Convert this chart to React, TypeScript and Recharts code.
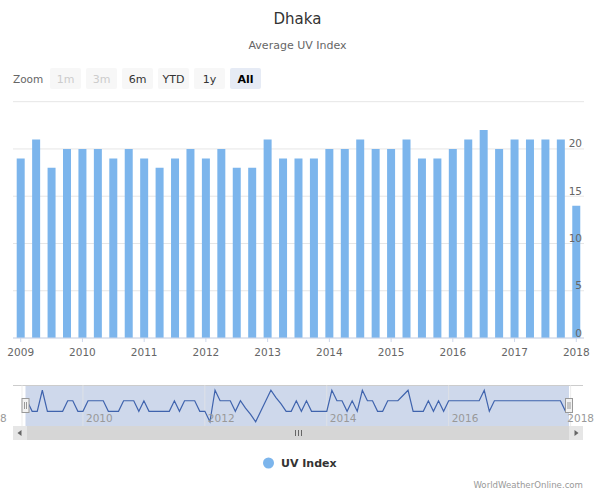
import React from 'react';
import { BarChart, Bar, XAxis, YAxis, CartesianGrid, LineChart, Line } from 'recharts';

const FONT = '"DejaVu Sans", Verdana, sans-serif';

// quarterly bars, 2009 Q1 .. 2018 Q1
const QUARTERS = [
  '2009 Q1', '2009 Q2', '2009 Q3', '2009 Q4',
  '2010 Q1', '2010 Q2', '2010 Q3', '2010 Q4',
  '2011 Q1', '2011 Q2', '2011 Q3', '2011 Q4',
  '2012 Q1', '2012 Q2', '2012 Q3', '2012 Q4',
  '2013 Q1', '2013 Q2', '2013 Q3', '2013 Q4',
  '2014 Q1', '2014 Q2', '2014 Q3', '2014 Q4',
  '2015 Q1', '2015 Q2', '2015 Q3', '2015 Q4',
  '2016 Q1', '2016 Q2', '2016 Q3', '2016 Q4',
  '2017 Q1', '2017 Q2', '2017 Q3', '2017 Q4',
  '2018 Q1',
];
const UV_INDEX = [
  19, 21, 18, 20,
  20, 20, 19, 20,
  19, 18, 19, 20,
  19, 20, 18, 18,
  21, 19, 19, 19,
  20, 20, 21, 20,
  20, 21, 19, 19,
  20, 21, 22, 20,
  21, 21, 21, 21,
  14,
];
const YEAR_TICKS = ['2009 Q1', '2010 Q1', '2011 Q1', '2012 Q1', '2013 Q1', '2014 Q1', '2015 Q1', '2016 Q1', '2017 Q1', '2018 Q1'];
const UV_TICKS = [0, 5, 10, 15, 20, 25];

// navigator: monthly values, Jan 2009 .. Jan 2018
const NAV_UV = [
  20, 20, 19, 19, 21, 19, 19, 19, 19, 20, 20, 19,
  19, 20, 20, 20, 20, 19, 19, 19, 20, 20, 20, 19,
  20, 19, 19, 19, 19, 19, 20, 19, 20, 20, 20, 19,
  19, 18, 21, 20, 20, 20, 19, 20, 19.3, 18.7, 18, 19,
  20, 21, 20.3, 19.7, 19, 19, 20, 19, 20, 19, 19, 19,
  19, 21, 20, 20, 19, 20, 19, 21, 20, 20, 19, 19,
  20, 20, 20, 20.5, 21, 19, 19, 19, 20, 19, 20, 19,
  20, 20, 20, 20, 20, 20, 20, 21, 19, 20, 20, 20,
  20, 20, 20, 20, 20, 20, 20, 20, 20, 20, 20, 19,
  19,
];
const NAV_TICKS = [12, 36, 60, 84, 108];
const NAV_LABELS = ['2010', '2012', '2014', '2016', '2018'];

const ZOOM_BUTTONS = ['1m', '3m', '6m', 'YTD', '1y', 'All'];

const barData = QUARTERS.map((q, i) => ({ q, uv: UV_INDEX[i] }));
const navData = NAV_UV.map((uv, m) => ({ m, uv }));

const XTick = ({ x, y, payload }: any) => (
  <text x={x} y={y + 14} textAnchor="middle" fontSize={10.5} fontFamily={FONT} fill="#666">
    {String(payload.value).slice(0, 4)}
  </text>
);

const YTick = ({ y, payload }: any) =>
  payload.value === 25 ? (
    <g />
  ) : (
    <text x={582} y={y - 1.5} textAnchor="end" fontSize={10.5} fontFamily={FONT} fill="#666">
      {payload.value}
    </text>
  );

// last label is pushed back inside the page edge, like Highstock's overflow justify
const NavTick = ({ x, payload }: any) => {
  const idx = NAV_TICKS.indexOf(payload.value);
  const last = idx === NAV_TICKS.length - 1;
  return (
    <text
      x={last ? 594 : x + 3}
      y={421.5 - 380}
      textAnchor={last ? 'end' : 'start'}
      fontSize={10.5}
      fontFamily={FONT}
      fill="#999"
    >
      {NAV_LABELS[idx]}
    </text>
  );
};

const Handle = ({ cx }: { cx: number }) => (
  <g>
    <rect x={cx - 3.5} y={398.5} width={7} height={14} fill="#f2f2f2" stroke="#999" strokeWidth={1} />
    <line x1={cx - 1} y1={402} x2={cx - 1} y2={409} stroke="#999" />
    <line x1={cx + 1} y1={402} x2={cx + 1} y2={409} stroke="#999" />
  </g>
);

const App: React.FC = () => {
  return (
    <div style={{ position: 'absolute', left: 0, top: 0, width: 595, height: 493, background: '#fff', fontFamily: FONT }}>
      <svg width={595} height={493} style={{ position: 'absolute', left: 0, top: 0 }}>
        <text x={297.5} y={23.5} textAnchor="middle" fontSize={15} fill="#333" fontFamily={FONT}>Dhaka</text>
        <text x={297.5} y={49} textAnchor="middle" fontSize={11} fill="#666" fontFamily={FONT}>Average UV Index</text>

        <text x={13} y={82.5} fontSize={10.5} fill="#666" fontFamily={FONT}>Zoom</text>
        {ZOOM_BUTTONS.map((b, k) => (
          <g key={b}>
            <rect x={50 + k * 36} y={68} width={31} height={21} rx={2} fill={k === 5 ? '#e6ebf5' : '#f7f7f7'} />
            <text
              x={65.5 + k * 36}
              y={82.5}
              textAnchor="middle"
              fontSize={11}
              fontWeight={k === 5 ? 'bold' : 'normal'}
              fill={k < 2 ? '#cccccc' : k === 5 ? '#000' : '#333'}
              fontFamily={FONT}
            >
              {b}
            </text>
          </g>
        ))}

        {/* navigator background */}
        <line x1={13} y1={385.5} x2={583} y2={385.5} stroke="#cccccc" />
        <rect x={25.5} y={386} width={543.5} height={40} fill="rgba(102,133,194,0.32)" />
        {/* tail of the clipped 2008 label at the left edge */}
        <text x={0} y={421.5} textAnchor="start" fontSize={10.5} fill="#999" fontFamily={FONT}>8</text>

        {/* legend + credits */}
        <circle cx={268.5} cy={463} r={5.5} fill="#7cb5ec" />
        <text x={281} y={467} fontSize={11} fontWeight="bold" fill="#333" fontFamily={FONT}>UV Index</text>
        <text x={583} y={488} textAnchor="end" fontSize={8.6} fill="#999" fontFamily={FONT}>WorldWeatherOnline.com</text>
      </svg>

      <div style={{ position: 'absolute', left: 0, top: 0 }}>
        <BarChart width={595} height={362} data={barData} margin={{ top: 101.7, right: 11, left: 13, bottom: 0 }} barCategoryGap="24%">
          <CartesianGrid stroke="#e6e6e6" vertical={false} />
          <XAxis
            dataKey="q"
            ticks={YEAR_TICKS}
            interval={0}
            height={24}
            tickSize={4}
            tickMargin={0}
            axisLine={{ stroke: '#ccd6eb' }}
            tickLine={{ stroke: '#ccd6eb' }}
            tick={<XTick />}
          />
          <Bar dataKey="uv" fill="#7cb5ec" isAnimationActive={false} />
          <YAxis
            orientation="right"
            mirror
            width={1}
            domain={[0, 25]}
            ticks={UV_TICKS}
            interval={0}
            axisLine={false}
            tickLine={false}
            tickSize={0}
            tickMargin={1}
            tick={<YTick />}
          />
        </BarChart>
      </div>

      <div style={{ position: 'absolute', left: 0, top: 380 }}>
        <LineChart width={595} height={50} data={navData} margin={{ top: 5, right: 24.4, left: 22, bottom: 3 }}>
          <CartesianGrid stroke="#e6e6e6" strokeOpacity={0.7} horizontal={false} />
          <XAxis
            dataKey="m"
            type="number"
            domain={[0, 108]}
            ticks={NAV_TICKS}
            interval={0}
            height={1}
            tickSize={0}
            tickMargin={0}
            axisLine={false}
            tickLine={false}
            tick={<NavTick />}
          />
          <YAxis hide domain={[17.6, 21.5]} />
          <Line type="linear" dataKey="uv" stroke="#3f63ad" strokeWidth={1.2} dot={false} isAnimationActive={false} />
        </LineChart>
      </div>

      <svg width={595} height={493} style={{ position: 'absolute', left: 0, top: 0, pointerEvents: 'none' }}>
        <Handle cx={25.5} />
        <Handle cx={569} />
        {/* scrollbar */}
        <rect x={13} y={426} width={570} height={14} fill="#f2f2f2" />
        <rect x={27} y={426} width={542} height={14} fill="#d6d6d6" />
        <rect x={13} y={426} width={14} height={14} fill="#e6e6e6" />
        <rect x={569} y={426} width={14} height={14} fill="#e6e6e6" />
        <path d="M 21.5 430 L 17.5 433 L 21.5 436 Z" fill="#666" />
        <path d="M 574.5 430 L 578.5 433 L 574.5 436 Z" fill="#666" />
        <line x1={295.5} y1={430} x2={295.5} y2={436} stroke="#666" />
        <line x1={298.5} y1={430} x2={298.5} y2={436} stroke="#666" />
        <line x1={301.5} y1={430} x2={301.5} y2={436} stroke="#666" />
      </svg>
    </div>
  );
};

export default App;
